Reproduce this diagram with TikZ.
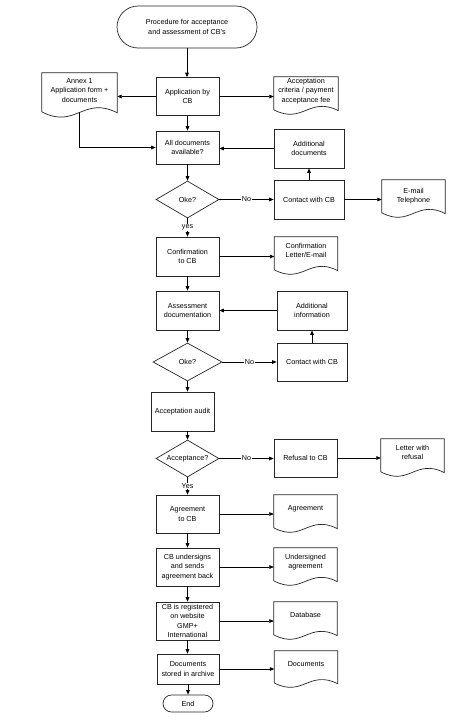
\documentclass[tikz,border=0pt]{standalone}
\usepackage{fontspec}
\setmainfont{Liberation Sans}
\usetikzlibrary{shapes.geometric,arrows.meta,calc}
\newcommand\diagfont{\fontsize{7.2}{9.3}\selectfont}
\newcommand\docpath[1]{%
  \draw[shapeline] let \p1=(#1.north west), \p2=(#1.south east) in
  (\x1,\y1) -- (\x2,\y1) -- (\x2,{\y1+0.88*(\y2-\y1)})
  .. controls ({\x1+0.55*(\x2-\x1)},{\y1+0.5*(\y2-\y1)}) and ({\x1+0.45*(\x2-\x1)},{\y1+1.25*(\y2-\y1)}) ..
  (\x1,{\y1+0.86*(\y2-\y1)}) -- cycle;}
\tikzset{
  shapeline/.style={line width=0.7pt, draw=black!85},
  box/.style={draw=black!85, line width=0.7pt, minimum width=63pt, minimum height=38pt, inner sep=1pt, align=center, font=\diagfont},
  docbox/.style={minimum width=63pt, minimum height=38pt, inner sep=0pt},
  txt/.style={align=center, font=\diagfont, inner sep=0pt},
  term/.style={draw=black!85, line width=0.7pt, rounded corners=21pt, minimum width=140pt, minimum height=42pt, align=center, font=\diagfont, inner sep=1pt},
  dia/.style={draw=black!85, line width=0.7pt, diamond, aspect=1.7, minimum width=63pt, minimum height=37pt, inner sep=0pt, font=\diagfont},
  arr/.style={draw=black, line width=0.7pt, -{Triangle[length=4.5pt,width=3.6pt]}},
  lab/.style={fill=white, inner sep=0.6pt, font=\diagfont}
}
\begin{document}
\begin{tikzpicture}[x=1pt,y=-1pt]
\useasboundingbox[fill=white] (0,0) rectangle (476,728);

% nodes
\node[term] (start) at (187,27) {Procedure for acceptance\\and assessment of CB's};
\node[box] (app) at (187.5,96.5) {Application by\\CB};
\node[docbox, minimum width=75pt, minimum height=45pt] (annex) at (79.5,95.5) {};
\docpath{annex}
\node[txt] (annext) at ([yshift=5pt]annex.center) {Annex 1\\Application form +\\documents};
\node[docbox, minimum width=64pt] (crit) at (306,96) {};
\docpath{crit}
\node[txt] (critt) at ([yshift=5pt]crit.center) {Acceptation\\criteria / payment\\acceptance fee};

\node[box, minimum height=33pt] (alldocs) at (187.5,147.5) {All documents\\available?};
\node[box, minimum width=70pt, minimum height=39pt] (adddocs) at (309,148.5) {Additional\\documents};

\node[dia] (oke1) at (187.5,199.5) {Oke?};
\node[box, minimum width=70pt, minimum height=39pt] (contact1) at (309,199.5) {Contact with CB};
\node[docbox] (email) at (413.5,199) {};
\docpath{email}
\node[txt] (emailt) at ([yshift=3pt]email.center) {E-mail\\Telephone};

\node[box, minimum height=39pt] (conf) at (187.5,256.5) {Confirmation\\to CB};
\node[docbox] (confdoc) at (306,256) {};
\docpath{confdoc}
\node[txt] (confdoct) at ([yshift=5.5pt]confdoc.center) {Confirmation\\Letter/E-mail};

\node[box, minimum height=39pt] (assess) at (187.5,310.5) {Assessment\\documentation};
\node[box, minimum width=70pt, minimum height=39pt] (addinfo) at (312,310.5) {Additional\\information};

\node[dia, minimum width=69pt, minimum height=38pt] (oke2) at (187.5,362) {Oke?};
\node[box, minimum width=70pt] (contact2) at (312,362) {Contact with CB};

\node[box, minimum height=39pt] (audit) at (182.5,411.5) {Acceptation audit};

\node[dia] (acc) at (187.5,458.5) {Acceptance?};
\node[box] (refusal) at (305.5,458) {Refusal to CB};
\node[docbox] (letter) at (412.5,458) {};
\docpath{letter}
\node[txt] (lettert) at ([yshift=5.5pt]letter.center) {Letter with\\refusal};

\node[box] (agree) at (187.5,514) {Agreement\\to CB};
\node[docbox] (agreedoc) at (305.5,514) {};
\docpath{agreedoc}
\node[txt] (agreedoct) at ([yshift=5pt]agreedoc.center) {Agreement};

\node[box] (under) at (187.5,567) {CB undersigns\\and sends\\agreement back};
\node[docbox] (undoc) at (305.5,567) {};
\docpath{undoc}
\node[txt] (undoct) at ([yshift=5pt]undoc.center) {Undersigned\\agreement};

\node[box] (reg) at (187.5,621) {CB is registered\\on website\\GMP+\\International};
\node[docbox] (db) at (305.5,621) {};
\docpath{db}
\node[txt] (dbt) at ([yshift=6pt]db.center) {Database};

\node[box, minimum width=62pt, minimum height=30pt] (stored) at (188,669) {Documents\\stored in archive};
\node[docbox, minimum height=37pt] (docs) at (306,669.5) {};
\docpath{docs}
\node[txt] (docst) at ([yshift=5.5pt]docs.center) {Documents};

\node[term, minimum width=50pt, minimum height=17pt, rounded corners=8.5pt] (end) at (188,703.5) {End};

% connectors
\draw[arr] (start.south) -- (start.south |- app.north);
\draw[arr] (app.west) -- (app.west -| annex.east);
\draw[arr] (app.east) -- (app.east -| crit.west);
\draw[arr] (app.south) -- (alldocs.north);
\draw[arr] ([yshift=6pt]annex.south) |- (alldocs.west);
\draw[arr] (adddocs.west) -- (adddocs.west -| alldocs.east);
\draw[arr] (alldocs.south) -- (oke1.north);
\draw[arr] (oke1.east) -- node[lab] {No} (contact1.west);
\draw[arr] (contact1.north) -- (adddocs.south);
\draw[arr] (contact1.east) -- (contact1.east -| email.west);
\draw[arr] (oke1.south) -- node[lab] {yes} (conf.north);
\draw[arr] (conf.east) -- (conf.east -| confdoc.west);
\draw[arr] (conf.south) -- (assess.north);
\draw[arr] (addinfo.west) -- (addinfo.west -| assess.east);
\draw[arr] (assess.south) -- (oke2.north);
\draw[arr] (oke2.east) -- node[lab] {No} (contact2.west);
\draw[arr] (contact2.north) -- (addinfo.south);
\draw[arr] (oke2.south) -- (oke2.south |- audit.north);
\draw[arr] (oke2.south |- audit.south) -- (acc.north);
\draw[arr] (acc.east) -- node[lab] {No} (acc.east -| refusal.west);
\draw[arr] (refusal.east) -- (refusal.east -| letter.west);
\draw[arr] (acc.south) -- node[lab] {Yes} (agree.north);
\draw[arr] (agree.east) -- (agree.east -| agreedoc.west);
\draw[arr] (agree.south) -- (under.north);
\draw[arr] (under.east) -- (under.east -| undoc.west);
\draw[arr] (under.south) -- (reg.north);
\draw[arr] (reg.east) -- (reg.east -| db.west);
\draw[arr] (reg.south) -- (stored.north -| reg.south);
\draw[arr] (stored.east) -- (stored.east -| docs.west);
\draw[arr] (stored.south) -- (end.north);
\end{tikzpicture}
\end{document}
